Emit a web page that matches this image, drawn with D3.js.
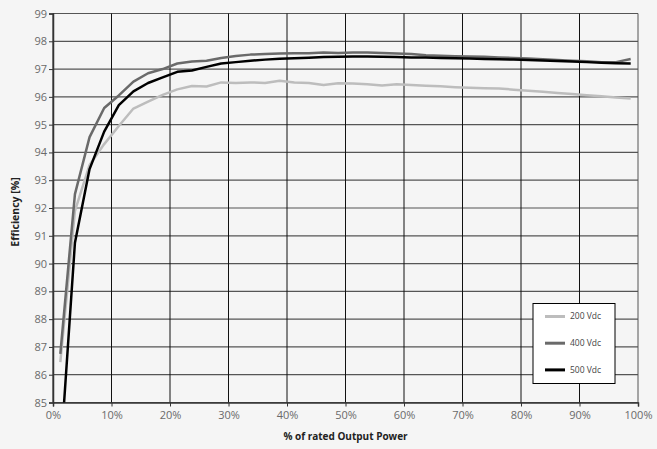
<!DOCTYPE html>
<html>
<head>
<meta charset="utf-8">
<script src="https://cdn.jsdelivr.net/npm/d3@7"></script>
<style>
  body { margin: 0; background: #f5f5f5; }
  svg { display: block; }
</style>
</head>
<body>
<svg id="chart" width="657" height="449"></svg>
<script>
// load points (% of rated output power)
const power = [1.25, 3.75, 6.25, 8.75, 11.25, 13.75, 16.25, 18.75, 21.25, 23.75,
  26.25, 28.75, 31.25, 33.75, 36.25, 38.75, 41.25, 43.75, 46.25, 48.75,
  51.25, 53.75, 56.25, 58.75, 61.25, 63.75, 66.25, 68.75, 71.25, 73.75,
  76.25, 78.75, 81.25, 83.75, 86.25, 88.75, 91.25, 93.75, 96.25, 98.75];

const eff200 = [86.45, 91.9, 93.55, 94.3, 94.95, 95.58, 95.83, 96.07, 96.27, 96.39,
  96.37, 96.52, 96.5, 96.52, 96.5, 96.58, 96.52, 96.5, 96.43, 96.49,
  96.48, 96.45, 96.41, 96.45, 96.43, 96.4, 96.38, 96.35, 96.33, 96.31,
  96.3, 96.26, 96.22, 96.18, 96.14, 96.1, 96.06, 96.02, 95.98, 95.94];

const eff400 = [86.75, 92.5, 94.55, 95.6, 96.05, 96.55, 96.85, 97.0, 97.2, 97.27,
  97.3, 97.4, 97.47, 97.52, 97.54, 97.56, 97.57, 97.57, 97.6, 97.58,
  97.6, 97.6, 97.58, 97.56, 97.54, 97.5, 97.48, 97.46, 97.45, 97.44,
  97.42, 97.4, 97.38, 97.35, 97.33, 97.3, 97.28, 97.25, 97.25, 97.36];

const eff500 = [83.0, 90.75, 93.4, 94.75, 95.7, 96.2, 96.5, 96.7, 96.9, 96.95,
  97.08, 97.2, 97.25, 97.3, 97.34, 97.37, 97.39, 97.41, 97.43, 97.44,
  97.45, 97.45, 97.44, 97.43, 97.42, 97.42, 97.4, 97.39, 97.38, 97.36,
  97.35, 97.34, 97.33, 97.31, 97.29, 97.27, 97.25, 97.23, 97.21, 97.2];

const seriesNames = ["200 Vdc", "400 Vdc", "500 Vdc"];
const seriesColors = ["#bdbdbd", "#6a6a6a", "#000000"];
const xTicks = [0, 10, 20, 30, 40, 50, 60, 70, 80, 90, 100];
const yTicks = [85, 86, 87, 88, 89, 90, 91, 92, 93, 94, 95, 96, 97, 98, 99];

const series = [eff200, eff400, eff500].map((vals, i) => ({
  name: seriesNames[i],
  color: seriesColors[i],
  values: vals.map((v, j) => ({ x: power[j], y: v }))
}));

const svg = d3.select("#chart");
const margin = { top: 13.5, right: 19, bottom: 46.5, left: 53 };
const W = 657, H = 449;
const iw = W - margin.left - margin.right;
const ih = H - margin.top - margin.bottom;

const x = d3.scaleLinear().domain([0, 100]).range([0, iw]);
const y = d3.scaleLinear().domain([85, 99]).range([ih, 0]);

const g = svg.append("g").attr("transform", `translate(${margin.left},${margin.top})`);
const font = "'Open Sans', 'DejaVu Sans', sans-serif";

// grid
g.append("g").selectAll("line.h")
  .data(yTicks)
  .enter().append("line")
  .attr("x1", 0).attr("x2", iw)
  .attr("y1", d => y(d)).attr("y2", d => y(d))
  .attr("stroke", "#555").attr("stroke-width", 1.2);

g.append("g").selectAll("line.v")
  .data(xTicks)
  .enter().append("line")
  .attr("x1", d => x(d)).attr("x2", d => x(d))
  .attr("y1", 0).attr("y2", ih)
  .attr("stroke", d => d === 100 ? "#555" : "#111").attr("stroke-width", 1);

// axes
const xAxis = g.append("g").attr("transform", `translate(0,${ih})`)
  .call(d3.axisBottom(x).tickValues(xTicks).tickFormat(d => d + "%").tickSizeOuter(0).tickSize(4).tickPadding(5));
const yAxis = g.append("g")
  .call(d3.axisLeft(y).tickValues(yTicks).tickSizeOuter(0).tickSize(4).tickPadding(2));

[xAxis, yAxis].forEach(a => {
  a.select(".domain").attr("stroke", "#333").attr("stroke-width", 1.5);
  a.selectAll(".tick line").attr("stroke", "#333");
  a.selectAll("text").attr("fill", "#6a6a6a").style("font-family", font).style("font-size", "11px");
});

// curves
svg.append("clipPath").attr("id", "plot-clip")
  .append("rect").attr("width", iw).attr("height", ih);

const line = d3.line().x(d => x(d.x)).y(d => y(d.y));
g.append("g").attr("clip-path", "url(#plot-clip)")
  .selectAll("path")
  .data(series)
  .enter().append("path")
  .attr("fill", "none")
  .attr("stroke", d => d.color)
  .attr("stroke-width", 2.5)
  .attr("stroke-linejoin", "round")
  .attr("d", d => line(d.values));

// axis titles
svg.append("text")
  .attr("x", margin.left + iw / 2).attr("y", 440)
  .attr("text-anchor", "middle")
  .style("font-family", font).style("font-size", "10px").style("font-weight", "bold")
  .attr("fill", "#222")
  .text("% of rated Output Power");

svg.append("text")
  .attr("transform", `translate(19,212) rotate(-90)`)
  .attr("text-anchor", "middle")
  .style("font-family", font).style("font-size", "10.5px").style("font-weight", "bold")
  .attr("fill", "#222")
  .text("Efficiency [%]");

// legend
const lg = svg.append("g").attr("transform", "translate(533,303.5)");
lg.append("rect").attr("width", 82).attr("height", 80)
  .attr("fill", "#fff").attr("stroke", "#000").attr("stroke-width", 1);
const items = lg.selectAll("g.item").data(series).enter().append("g")
  .attr("transform", (d, i) => `translate(0,${13 + i * 26.7})`);
items.append("line").attr("x1", 12).attr("x2", 32)
  .attr("stroke", d => d.color).attr("stroke-width", 3);
items.append("text").attr("x", 37).attr("dy", "0.35em")
  .style("font-family", font).style("font-size", "8.5px")
  .attr("fill", "#444")
  .text(d => d.name);
</script>
</body>
</html>
